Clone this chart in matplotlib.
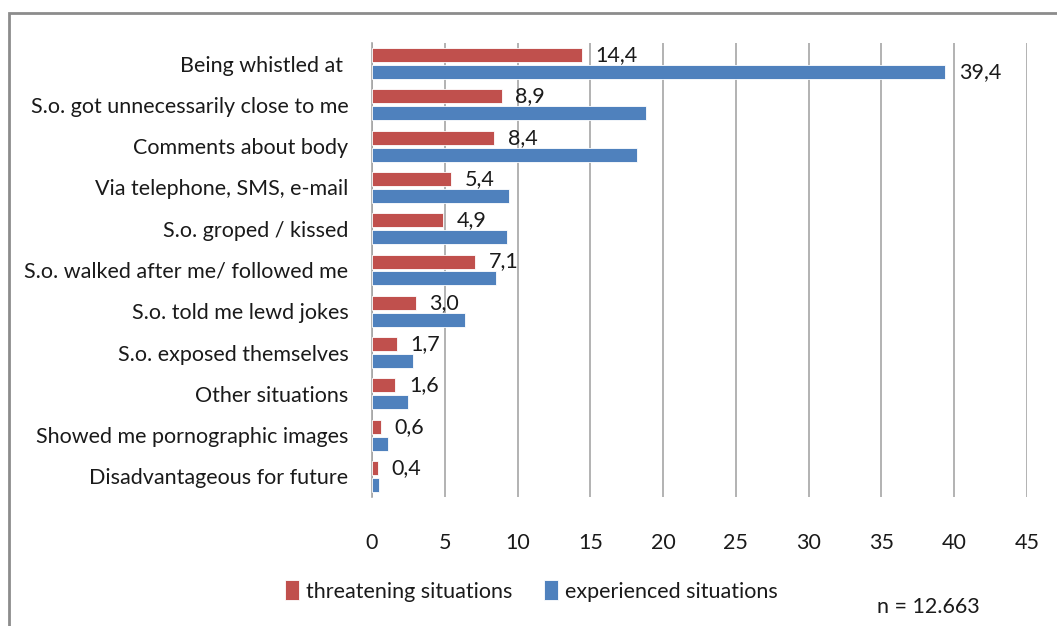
import matplotlib
matplotlib.use("Agg")
from matplotlib import pyplot as plt
from matplotlib.patches import Rectangle
import numpy as np

plt.rcParams['font.family'] = ['Lato', 'DejaVu Sans']

categories = ['Being whistled at ', 'S.o. got unnecessarily close to me', 'Comments about body',
              'Via telephone, SMS, e-mail', 'S.o. groped / kissed', 'S.o. walked after me/ followed me',
              'S.o. told me lewd jokes', 'S.o. exposed themselves', 'Other situations',
              'Showed me pornographic images', 'Disadvantageous for future']
threatening = [14.4, 8.9, 8.4, 5.4, 4.9, 7.1, 3.0, 1.7, 1.6, 0.6, 0.4]
experienced = [39.4, 18.8, 18.2, 9.4, 9.3, 8.5, 6.4, 2.8, 2.5, 1.1, 0.5]
xticks = [0, 5, 10, 15, 20, 25, 30, 35, 40, 45]

red = '#c0504d'
blue = '#4f81bd'
grid = '#a6a6a6'
fs = 15.5

fig = plt.figure(figsize=(10.57, 6.26), dpi=100)
# outer chart frame
fig.patches.append(Rectangle((9/1057, -0.1), 1.2, 1 - 13/626 + 0.1, transform=fig.transFigure,
                             fill=False, edgecolor='#8c8c8c', linewidth=2))
ax = fig.add_axes([372/1057, 1 - 497/626, 655/1057, 454/626])

y = np.arange(len(categories))
h = 0.34
ax.barh(y - 0.205, threatening, height=h, color=red, edgecolor='white', linewidth=0.6,
        label='threatening situations', zorder=3)
ax.barh(y + 0.205, experienced, height=h, color=blue, edgecolor='white', linewidth=0.6,
        label='experienced situations', zorder=3)

for i, v in enumerate(threatening):
    ax.text(v + 0.95, i - 0.205, f'{v:.1f}'.replace('.', ','), fontsize=fs,
            va='center', ha='left', color='#1a1a1a', zorder=4)
ax.text(experienced[0] + 0.95, 0 + 0.205, f'{experienced[0]:.1f}'.replace('.', ','), fontsize=fs,
        va='center', ha='left', color='#1a1a1a', zorder=4)

ax.set_xlim(0, 45)
ax.set_ylim(len(categories) - 0.5, -0.5)
ax.set_xticks(xticks)
ax.set_yticks(y)
ax.set_yticklabels(categories, fontsize=fs, color='#1a1a1a')
ax.tick_params(axis='x', length=0, pad=26, labelsize=fs, labelcolor='#1a1a1a')
ax.tick_params(axis='y', length=0, pad=17)
ax.xaxis.grid(True, color=grid, linewidth=1.2)
ax.set_axisbelow(True)
for s in ['top', 'right', 'bottom']:
    ax.spines[s].set_visible(False)
ax.spines['left'].set_color(grid)
ax.spines['left'].set_linewidth(1.2)

fig.legend(loc='center left', bbox_to_anchor=(266/1057, 1 - 591/626), ncol=2, frameon=False,
           fontsize=fs, handlelength=0.65, handleheight=1.0, handletextpad=0.3, columnspacing=1.5,
           labelcolor='#1a1a1a')
fig.text(877/1057, 1 - 607/626, 'n = 12.663', fontsize=fs, va='center', ha='left', color='#1a1a1a')

fig.savefig('out.png', dpi=100)
